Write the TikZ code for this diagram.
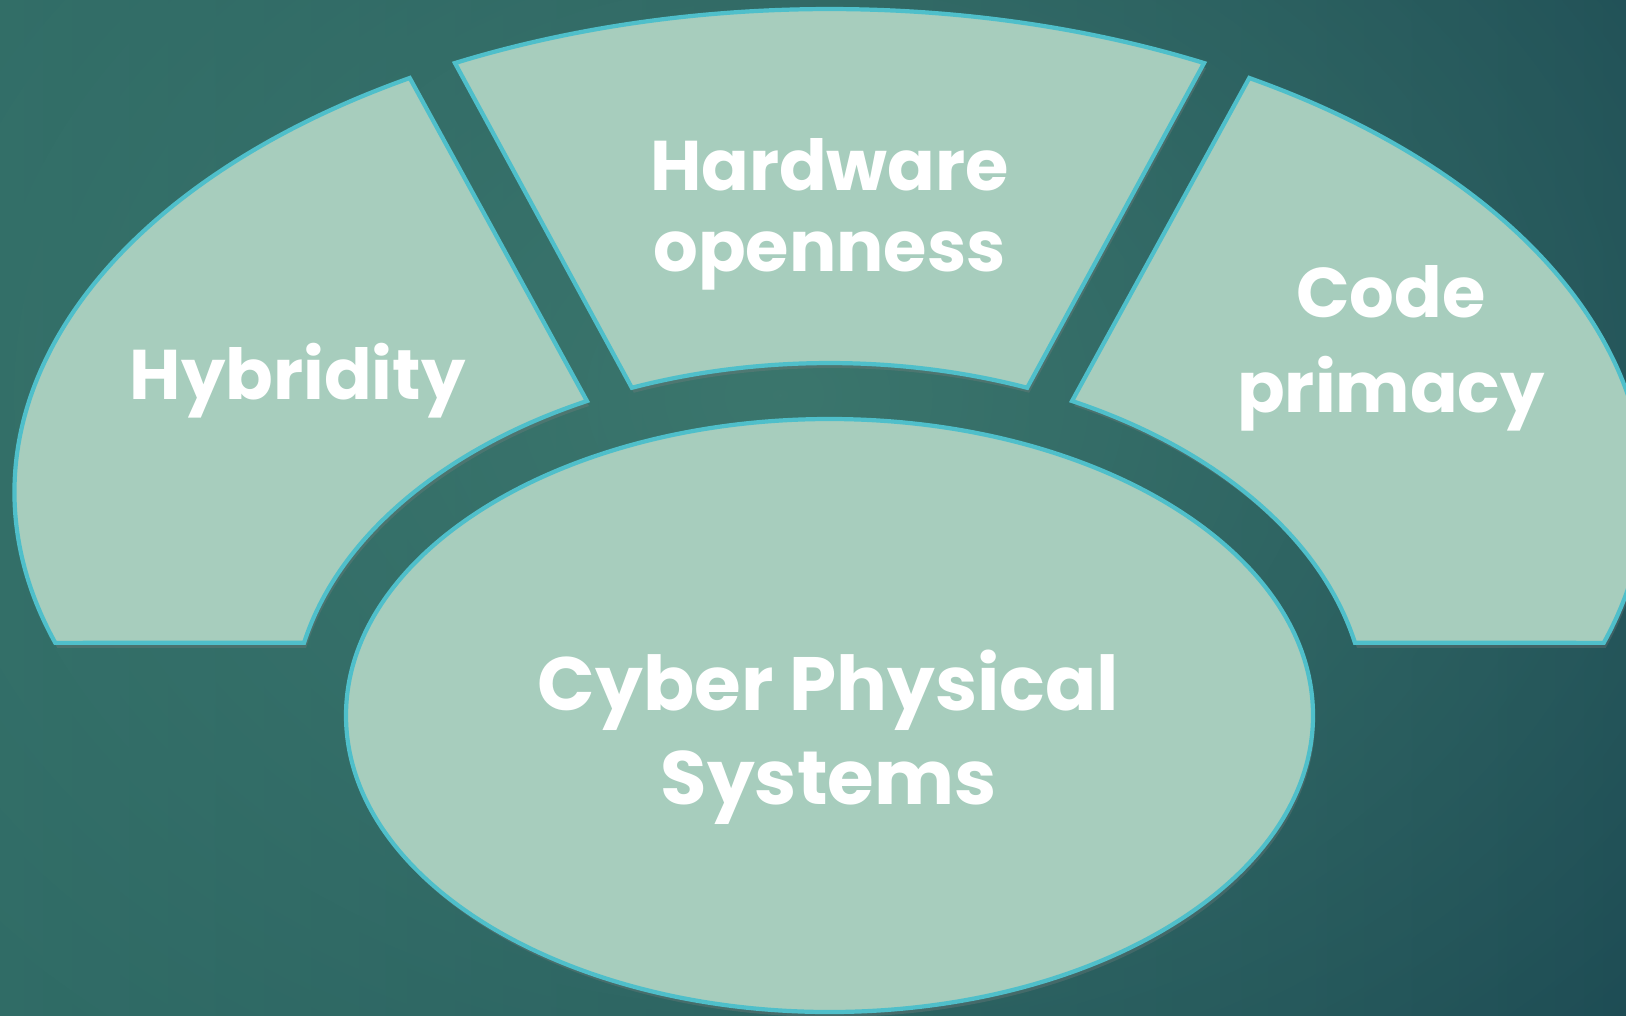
\documentclass[tikz,border=0pt]{standalone}
\usepackage{fontspec}
\setmainfont{Poppins}
\usepackage{tikz}
\usetikzlibrary{calc,shadows,fadings}

\definecolor{bglight}{HTML}{3F7B70}
\definecolor{bgleft}{HTML}{2E6A65}
\definecolor{bgright}{HTML}{1B4852}
\definecolor{segfill}{HTML}{A7CDBD}
\definecolor{segline}{HTML}{4FBFCA}

\tikzfading[name=glowfade, inner color=transparent!15, outer color=transparent!100]

\begin{document}
\begin{tikzpicture}[
    seg/.style={fill=segfill, draw=segline, line width=1.2pt,
      drop shadow={shadow xshift=0.02cm, shadow yshift=-0.05cm, opacity=0.3}},
    lbl/.style={text=white, align=center, font=\bfseries\fontsize{20}{23.3}\selectfont}
  ]
  \useasboundingbox (0,0) rectangle (16.26,10.15);
  \clip (0,0) rectangle (16.26,10.15);
  % background
  \shade[left color=bgleft, right color=bgright] (0,0) rectangle (16.26,10.15);
  \fill[bglight, path fading=glowfade] (7.8,6.2) ellipse (13 and 10);

  \coordinate (O) at (8.295,5.23);   % outer ring centre
  \coordinate (I) at (8.295,2.995);  % inner ring centre

  % ring segments
  \draw[seg] ($(O)+(121:8.15 and 4.83)$)
    arc[start angle=121, end angle=198.2, x radius=8.15, y radius=4.83]
    -- ($(I)+(168.1:5.37 and 3.525)$)
    arc[start angle=168.1, end angle=116.85, x radius=5.37, y radius=3.525] -- cycle;
  \draw[seg] ($(O)+(117.36:8.15 and 4.83)$)
    arc[start angle=117.36, end angle=62.64, x radius=8.15, y radius=4.83]
    -- ($(I)+(68.4:5.37 and 3.525)$)
    arc[start angle=68.4, end angle=111.6, x radius=5.37, y radius=3.525] -- cycle;
  \draw[seg] ($(O)+(59:8.15 and 4.83)$)
    arc[start angle=59, end angle=-18.2, x radius=8.15, y radius=4.83]
    -- ($(I)+(11.9:5.37 and 3.525)$)
    arc[start angle=11.9, end angle=63.15, x radius=5.37, y radius=3.525] -- cycle;

  % centre
  \draw[seg] (I) ellipse (4.835 and 2.965);

  \node[lbl, anchor=base] (Hy) at (2.976,6.16) {Hybridity};
  \node[lbl] (Hw) at (8.295,8.007) {Hardware\\openness};
  \node[lbl, font=\bfseries\fontsize{20}{27.1}\selectfont] (Cp) at (13.91,6.667) {Code\\primacy};
  \node[lbl, font=\bfseries\fontsize{21.5}{26.5}\selectfont] (Cps) at (8.285,2.777) {Cyber Physical\\Systems};
\end{tikzpicture}
\end{document}
